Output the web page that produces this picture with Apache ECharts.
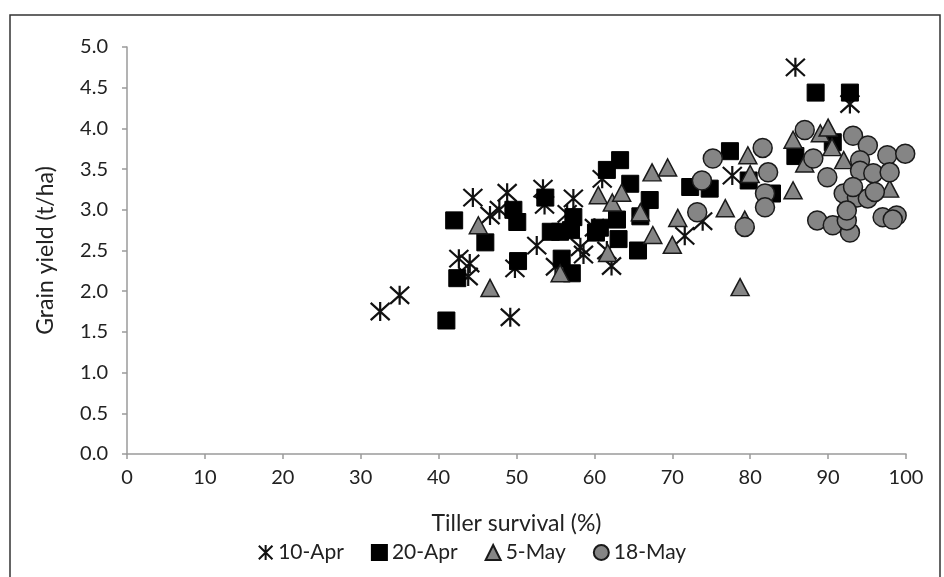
<!DOCTYPE html>
<html><head><meta charset="utf-8">
<script src="https://cdn.jsdelivr.net/npm/echarts@6/dist/echarts.min.js"></script>
<style>html,body{margin:0;padding:0;background:#fff}#c{width:944px;height:577px}</style>
</head><body><div id="c"></div>
<script>
const seriesNames = ['10-Apr', '20-Apr', '5-May', '18-May'];
const xTicks = [0,10,20,30,40,50,60,70,80,90,100];
const yTicks = [0,0.5,1,1.5,2,2.5,3,3.5,4,4.5,5];
const apr10 = [[32.5,1.75],[35.0,1.95],[42.6,2.40],[44.0,2.34],[43.8,2.18],[49.8,2.28],[49.2,1.68],[44.4,3.15],[48.8,3.21],[53.4,3.26],[46.6,2.93],[52.6,2.56],[57.3,3.14],[53.6,3.06],[58.2,2.54],[61.6,2.50],[62.2,2.31],[71.6,2.68],[73.9,2.86],[77.7,3.42],[85.8,4.75],[92.8,4.30],[47.8,3.00],[56.5,2.95],[60.0,2.78],[58.6,2.45],[61.0,3.38],[55.0,2.30]];
const apr20 = [[41.0,1.64],[42.0,2.87],[42.4,2.16],[46.0,2.60],[49.6,3.00],[50.1,2.85],[50.2,2.37],[53.7,3.15],[54.4,2.73],[55.6,2.73],[55.8,2.40],[57.1,2.22],[57.3,2.91],[57.0,2.75],[60.2,2.72],[60.7,2.78],[61.6,3.49],[63.3,3.61],[62.9,2.88],[63.1,2.64],[64.6,3.32],[65.9,2.92],[65.6,2.50],[67.1,3.12],[72.3,3.28],[74.8,3.26],[77.4,3.72],[79.8,3.36],[82.8,3.20],[85.8,3.66],[88.4,4.44],[92.8,4.44],[90.6,3.83]];
const may5 = [[45.1,2.81],[46.6,2.04],[55.6,2.22],[60.5,3.18],[62.3,3.09],[63.5,3.21],[67.4,3.46],[69.4,3.52],[65.9,2.97],[70.7,2.90],[67.5,2.69],[70.0,2.57],[61.7,2.47],[76.8,3.02],[78.7,2.05],[79.7,3.67],[80.0,3.44],[79.3,2.88],[85.5,3.86],[89.0,3.94],[90.0,4.01],[90.5,3.77],[92.0,3.61],[87.0,3.57],[85.5,3.24],[97.9,3.26]];
const may18 = [[75.2,3.63],[81.6,3.76],[73.8,3.36],[82.3,3.46],[81.9,3.20],[81.9,3.03],[73.2,2.97],[79.3,2.79],[87.0,3.98],[88.1,3.63],[89.9,3.40],[93.2,3.91],[95.1,3.79],[97.6,3.67],[99.9,3.69],[94.1,3.61],[94.1,3.48],[95.8,3.45],[97.9,3.46],[92.0,3.20],[93.7,3.15],[95.1,3.14],[96.0,3.22],[93.2,3.28],[88.6,2.87],[90.6,2.81],[92.8,2.72],[92.4,2.87],[92.4,2.99],[97.0,2.91],[98.8,2.93],[98.3,2.88]];

const FONT = 'Lato';
const star = 'path://M0,0L20,20M0,20L20,0M10,-1L10,21';
const chart = echarts.init(document.getElementById('c'), null, {renderer:'canvas'});
const axisCommon = {
  axisLine:{show:true,lineStyle:{color:'#9a9a9a',width:1.5}},
  axisTick:{show:true,inside:false,length:5,lineStyle:{color:'#9a9a9a',width:1.5}},
  splitLine:{show:false},
  nameTextStyle:{color:'#222',fontFamily:FONT,fontSize:23}
};
chart.setOption({
  animation:false,
  backgroundColor:'#fff',
  graphic:[{type:'rect',shape:{x:10,y:15,width:930,height:600},style:{fill:'none',stroke:'#333',lineWidth:1.5},silent:true}],
  grid:{left:127,right:38,top:47,bottom:123},
  xAxis:Object.assign({type:'value',min:0,max:100,interval:10,name:'Tiller survival (%)',nameLocation:'middle',nameGap:58},axisCommon,{axisLabel:{color:'#222',fontFamily:FONT,fontSize:20,margin:14}}),
  yAxis:Object.assign({type:'value',min:0,max:5,interval:0.5,name:'Grain yield (t/ha)',nameLocation:'middle',nameGap:70,nameRotate:90},axisCommon,{axisLabel:{color:'#222',fontFamily:FONT,fontSize:20,margin:19,formatter:v=>v.toFixed(1)}}),
  legend:{bottom:9,left:'center',itemGap:27,itemWidth:15,itemHeight:15,textStyle:{color:'#222',fontFamily:FONT,fontSize:21},
    data:seriesNames},
  series:[
    {name:seriesNames[0],type:'scatter',data:apr10,symbol:star,symbolSize:19,itemStyle:{color:'rgba(0,0,0,0)',borderColor:'#111',borderWidth:2.2,opacity:1},z:2},
    {name:seriesNames[1],type:'scatter',data:apr20,symbol:'rect',symbolSize:17,itemStyle:{color:'#000',borderColor:'#000',borderWidth:1,opacity:1},z:3},
    {name:seriesNames[2],type:'scatter',data:may5,symbol:'triangle',symbolSize:[18,17],itemStyle:{color:'#858585',borderColor:'#1a1a1a',borderWidth:1.5,opacity:1},z:4},
    {name:seriesNames[3],type:'scatter',data:may18,symbol:'circle',symbolSize:19,itemStyle:{color:'#858585',borderColor:'#1a1a1a',borderWidth:1.5,opacity:1},z:5}
  ]
});
</script></body></html>
